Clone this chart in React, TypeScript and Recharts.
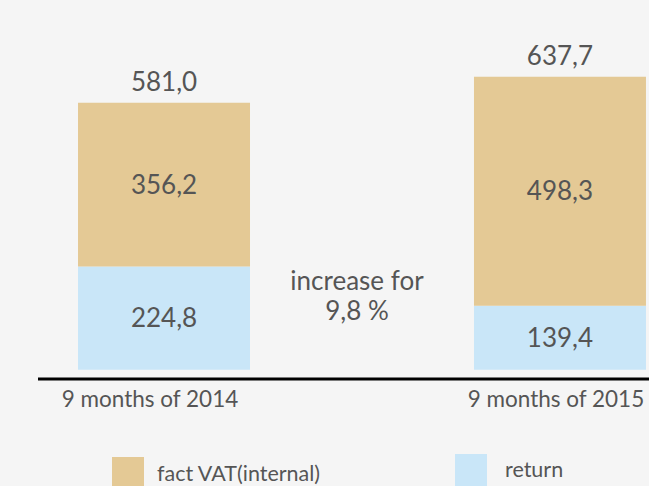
import { BarChart, Bar, XAxis, YAxis, LabelList } from 'recharts'

const periods = ['9 months of 2014', '9 months of 2015']
const factVat = [356.2, 498.3]
const returned = [224.8, 139.4]
const totals = [581.0, 637.7]
const increaseText = ['increase for', '9,8 %']
const legendItems = ['fact VAT(internal)', 'return']

const TAN = '#e4c995'
const BLUE = '#c9e6f8'
const TEXT = '#555555'
const FONT = 'Lato, "Open Sans", sans-serif'

const data = periods.map((p, i) => ({
  x: i,
  name: p,
  ret: returned[i],
  fact: factVat[i],
  total: totals[i],
}))

const fmt = (v: any) => Number(v).toFixed(1).replace('.', ',')

function PeriodTick(props: any) {
  const { x, y, payload } = props
  const shift = payload.value === 0 ? -14 : -4
  return (
    <text
      x={x + shift}
      y={y}
      dy={20}
      textAnchor="middle"
      fill={TEXT}
      fontSize={22.5}
      fontFamily={FONT}
    >
      {periods[payload.value]}
    </text>
  )
}

function LegendBox() {
  return (
    <div style={{ position: 'absolute', left: 0, top: 454, width: 649, height: 40, fontFamily: FONT, color: TEXT, fontSize: 21.5 }}>
      <div style={{ position: 'absolute', left: 112, top: 3, width: 32, height: 32, background: TAN }} />
      <div style={{ position: 'absolute', left: 157, top: 4, lineHeight: '30px' }}>{legendItems[0]}</div>
      <div style={{ position: 'absolute', left: 455, top: 0, width: 32, height: 32, background: BLUE }} />
      <div style={{ position: 'absolute', left: 505, top: 0, lineHeight: '30px' }}>{legendItems[1]}</div>
    </div>
  )
}

export default function App() {
  return (
    <div style={{ position: 'absolute', left: 0, top: 0, width: 649, height: 486, background: '#f5f5f5', overflow: 'hidden' }}>
      <BarChart
        width={649}
        height={486}
        data={data}
        margin={{ top: 48, right: 0, bottom: 77, left: 38 }}
      >
        <XAxis
          dataKey="x"
          type="number"
          domain={[-0.3182, 1.2249]}
          ticks={[0, 1]}
          height={30}
          axisLine={{ stroke: '#000', strokeWidth: 3 }}
          tickLine={false}
          tick={<PeriodTick />}
          allowDataOverflow
        />
        <YAxis hide domain={[-20, 700]} allowDataOverflow />
        <Bar dataKey="ret" stackId="a" fill={BLUE} barSize={172} isAnimationActive={false}>
          <LabelList dataKey="ret" position="center" formatter={fmt} fill={TEXT} fontSize={26} fontFamily={FONT} />
        </Bar>
        <Bar dataKey="fact" stackId="a" fill={TAN} barSize={172} isAnimationActive={false}>
          <LabelList dataKey="fact" position="center" formatter={fmt} fill={TEXT} fontSize={26} fontFamily={FONT} />
          <LabelList dataKey="total" position="top" offset={12} formatter={fmt} fill={TEXT} fontSize={26} fontFamily={FONT} />
        </Bar>
      </BarChart>
      <LegendBox />
      <div
        style={{
          position: 'absolute',
          left: 257,
          top: 265,
          width: 200,
          textAlign: 'center',
          fontFamily: FONT,
          fontSize: 26,
          lineHeight: '30px',
          color: TEXT,
        }}
      >
        {increaseText.map((t) => (
          <div key={t}>{t}</div>
        ))}
      </div>
    </div>
  )
}
